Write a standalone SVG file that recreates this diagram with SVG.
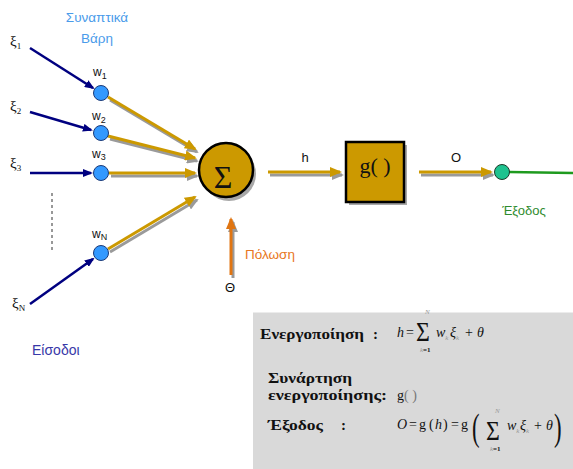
<svg xmlns="http://www.w3.org/2000/svg" width="573" height="469" viewBox="0 0 573 469">
  <defs>
    <style>
      .sans{font-family:"Liberation Sans",Arial,sans-serif}
      .serif{font-family:"Liberation Serif","Times New Roman",serif}
      .it{font-style:italic}
      .navy{stroke:#000080;stroke-width:2.5;fill:none;marker-end:url(#navyHead)}
      .gold{stroke:#CC9900;stroke-width:3;fill:none;marker-end:url(#goldHead)}
      .shadow{stroke:#9A9A9A;stroke-width:3;fill:none;marker-end:url(#grayHead)}
      .bias{stroke:#E07512;stroke-width:3;fill:none;marker-end:url(#biasHead)}
      .wnode{fill:#3399FF;stroke:#1B3A78;stroke-width:1}
      .lbl{font-size:12px;fill:#111}
      .sub{font-size:9px;fill:#111}
      .xi{font-size:15px;fill:#111}
      .head{font-size:15px;font-weight:bold;fill:#111}
      .f{font-size:14px;fill:#111}
      .big{font-size:28px;fill:#111}
      .tiny{font-size:7px;fill:#999}
    </style>
    <marker id="navyHead" viewBox="0 0 10 8" refX="8" refY="4" markerWidth="10" markerHeight="8" orient="auto" markerUnits="userSpaceOnUse">
      <path d="M0,0 L10,4 L0,8 Z" fill="#000080"/>
    </marker>
    <marker id="goldHead" viewBox="0 0 12 10" refX="10" refY="5" markerWidth="12" markerHeight="10" orient="auto" markerUnits="userSpaceOnUse">
      <path d="M0,0 L12,5 L0,10 Z" fill="#CC9900"/>
    </marker>
    <marker id="grayHead" viewBox="0 0 12 10" refX="10" refY="5" markerWidth="12" markerHeight="10" orient="auto" markerUnits="userSpaceOnUse">
      <path d="M0,0 L12,5 L0,10 Z" fill="#9A9A9A"/>
    </marker>
    <marker id="biasHead" viewBox="0 0 12 10" refX="10" refY="5" markerWidth="12" markerHeight="10" orient="auto" markerUnits="userSpaceOnUse">
      <path d="M0,0 L12,5 L0,10 Z" fill="#E07512"/>
    </marker>
  </defs>

  <rect width="573" height="469" fill="#FFFFFF"/>

  <!-- titles -->
  <text class="sans" x="97" y="22" font-size="13.5" fill="#4A9BEA" text-anchor="middle">Συναπτικά</text>
  <text class="sans" x="97" y="43" font-size="13.5" fill="#4A9BEA" text-anchor="middle">Βάρη</text>
  <text class="sans" x="32" y="355" font-size="14" fill="#3838A8">Είσοδοι</text>

  <!-- input labels -->
  <g id="inputs" class="serif">
    <text class="xi" x="10" y="46">ξ<tspan class="sub" font-size="10" dy="3">1</tspan></text>
    <text class="xi" x="10" y="111">ξ<tspan class="sub" font-size="10" dy="3">2</tspan></text>
    <text class="xi" x="10" y="168">ξ<tspan class="sub" font-size="10" dy="3">3</tspan></text>
    <text class="xi" x="12" y="308">ξ<tspan class="sub" font-size="10" dy="3">N</tspan></text>
  </g>

  <!-- ellipsis between inputs -->
  <line x1="52" y1="193" x2="52" y2="252" stroke="#777" stroke-width="1.5" stroke-dasharray="3,3"/>

  <!-- connectors -->
  <g id="connectors">
    <path class="navy" d="M30,48 L93,88"/>
    <path class="navy" d="M30,112 L91,130"/>
    <path class="navy" d="M30,173 L91,173"/>
    <path class="navy" d="M30,304 L93,259"/>

    <g transform="translate(2,3)">
      <path class="shadow" d="M108,97 L195,149"/>
      <path class="shadow" d="M108,136 L195,158"/>
      <path class="shadow" d="M109,173 L195,173"/>
      <path class="shadow" d="M108,249 L195,197"/>
      <path class="shadow" d="M268,172 L340,172"/>
      <path class="shadow" d="M419,172 L491,172"/>
      <path class="shadow" d="M231,275 L231,219"/>
    </g>
    <path class="gold" d="M108,97 L195,149"/>
    <path class="gold" d="M108,136 L195,158"/>
    <path class="gold" d="M109,173 L195,173"/>
    <path class="gold" d="M108,249 L195,197"/>
    <path class="gold" d="M268,172 L340,172"/>
    <path class="gold" d="M419,172 L491,172"/>
    <path class="bias" d="M231,275 L231,219"/>

    <line x1="509" y1="172" x2="573" y2="173" stroke="#1E9A1E" stroke-width="2.5"/>
  </g>

  <!-- weight nodes -->
  <g id="w1">
    <circle class="wnode" cx="101" cy="93" r="7.5"/>
    <text class="sans lbl" x="93" y="76">w<tspan class="sub" dy="3">1</tspan></text>
  </g>
  <g id="w2">
    <circle class="wnode" cx="101" cy="133" r="7.5"/>
    <text class="sans lbl" x="92" y="120">w<tspan class="sub" dy="3">2</tspan></text>
  </g>
  <g id="w3">
    <circle class="wnode" cx="101" cy="173" r="7.5"/>
    <text class="sans lbl" x="92" y="158">w<tspan class="sub" dy="2">3</tspan></text>
  </g>
  <g id="wN">
    <circle class="wnode" cx="101" cy="253" r="7.5"/>
    <text class="sans lbl" x="92" y="238">w<tspan class="sub" dy="2">N</tspan></text>
  </g>

  <!-- summation unit -->
  <g id="sum">
    <circle cx="229" cy="174" r="27" fill="#A8A8A8"/>
    <circle cx="226" cy="170" r="27" fill="#CC9900" stroke="#000" stroke-width="2.5"/>
    <text class="serif" x="223" y="188" font-size="32" text-anchor="middle" fill="#111">Σ</text>
  </g>

  <!-- activation function -->
  <g id="activation">
    <rect x="349" y="145" width="58" height="60" fill="#A8A8A8"/>
    <rect x="346" y="142" width="58" height="60" fill="#CC9900" stroke="#000" stroke-width="2.5"/>
    <text class="serif" x="375" y="173" font-size="22" text-anchor="middle" fill="#111">g( )</text>
  </g>

  <!-- output node -->
  <g id="output">
    <circle cx="502" cy="172" r="7.5" fill="#1FC28F" stroke="#1E3A2A" stroke-width="1"/>
    <text class="sans" x="524" y="215" font-size="13" fill="#2E8B2E" text-anchor="middle">Έξοδος</text>
  </g>

  <!-- signal labels -->
  <text class="sans" x="305" y="162" font-size="13" fill="#111" text-anchor="middle">h</text>
  <text class="sans" x="456" y="162" font-size="13" fill="#111" text-anchor="middle">O</text>
  <text class="sans" x="245" y="259" font-size="13.5" fill="#E87722">Πόλωση</text>
  <text class="sans" x="230" y="292" font-size="13" fill="#111" text-anchor="middle">Θ</text>

  <!-- formula panel -->
  <g id="formulas" class="serif">
    <rect x="253" y="312" width="320" height="157" fill="#D9D9D9"/>
    <line x1="253" y1="312.5" x2="573" y2="312.5" stroke="#ECECEC" stroke-width="1"/>

    <text class="head" x="260" y="339" textLength="104" lengthAdjust="spacingAndGlyphs">Ενεργοποίηση</text>
    <text class="head" x="373" y="339">:</text>

    <text class="f it" x="397" y="337">h</text>
    <text class="f" x="406" y="337">=</text>
    <text class="big" transform="translate(416,341) scale(0.85,1)">Σ</text>
    <text class="tiny it" x="425" y="314">N</text>
    <text class="tiny it" x="420" y="352">k<tspan fill="#111" font-weight="bold" font-style="normal">=1</tspan></text>
    <text class="f it" x="436" y="337">w<tspan class="tiny" dy="3">k</tspan></text>
    <text class="f it" x="450" y="337">ξ<tspan class="tiny" dy="3">k</tspan></text>
    <text class="f" x="465" y="337">+</text>
    <text class="f it" x="477" y="337">θ</text>

    <text class="head" x="268" y="383" textLength="84" lengthAdjust="spacingAndGlyphs">Συνάρτηση</text>
    <text class="head" x="268" y="400" textLength="119" lengthAdjust="spacingAndGlyphs">ενεργοποίησης:</text>
    <text class="f" x="397" y="400">g<tspan fill="#777">(</tspan> <tspan fill="#777">)</tspan></text>

    <text class="head" x="268" y="430" textLength="55" lengthAdjust="spacingAndGlyphs">Έξοδος</text>
    <text class="head" x="341" y="430">:</text>

    <text class="f it" x="397" y="429">O</text>
    <text class="f" x="409" y="429">=</text>
    <text class="f" x="419" y="429">g</text>
    <text class="f" x="429" y="429">(</text>
    <text class="f it" x="435" y="429">h</text>
    <text class="f" x="443" y="429">)</text>
    <text class="f" x="451" y="429">=</text>
    <text class="f" x="461" y="429">g</text>
    <text transform="translate(472,440) scale(0.6,1)" font-size="38" fill="#111">(</text>
    <text class="big" transform="translate(486,440) scale(0.85,1)">Σ</text>
    <text class="tiny it" x="495" y="413">N</text>
    <text class="tiny it" x="490" y="451">k<tspan fill="#111" font-weight="bold" font-style="normal">=1</tspan></text>
    <text class="f it" x="507" y="430">w<tspan class="tiny" dy="3">k</tspan></text>
    <text class="f it" x="520" y="430">ξ<tspan class="tiny" dy="3">k</tspan></text>
    <text class="f" x="534" y="430">+</text>
    <text class="f it" x="546" y="430">θ</text>
    <text transform="translate(554,440) scale(0.6,1)" font-size="38" fill="#111">)</text>
  </g>
</svg>
